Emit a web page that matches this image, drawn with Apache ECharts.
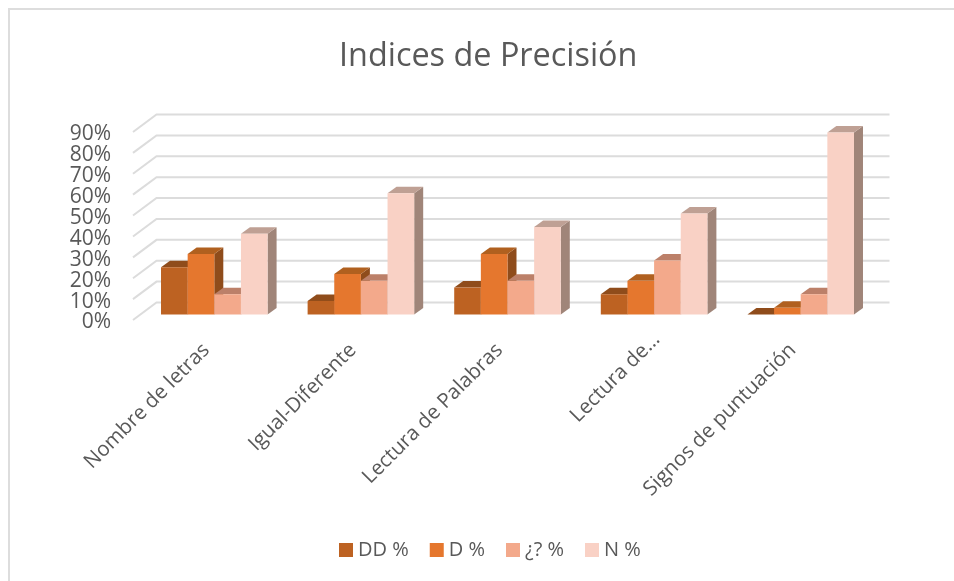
<!DOCTYPE html>
<html><head><meta charset="utf-8">
<style>html,body{margin:0;padding:0;background:#fff}#c{width:954px;height:581px}</style>
<script src="https://cdn.jsdelivr.net/npm/echarts@6/dist/echarts.min.js"></script>
</head><body><div id="c"></div>
<script>
const titleText = 'Indices de Precisión';
const categories = ['Nombre de letras','Igual-Diferente','Lectura de Palabras','Lectura de…','Signos de puntuación'];
const seriesNames = ['DD %','D %','¿? %','N %'];
const ddValues = [22.6, 6.5, 12.9, 9.7, 0];
const dValues = [29.0, 19.4, 29.0, 16.1, 3.2];
const unsureValues = [9.7, 16.1, 16.1, 25.8, 9.7];
const nValues = [38.7, 58.1, 41.9, 48.4, 87.1];
const gridTicks = [0,10,20,30,40,50,60,70,80,90];
const colors = ['#BD6222','#E5772E','#F3A98B','#F9D1C5'];
const topColors = ['#8F4C1B','#B0601F','#BC8069','#BFA094'];
const sideColors = ['#8F4C1B','#8F4C1B','#A0705C','#A08579'];

const chart = echarts.init(document.getElementById('c'), null, {renderer:'canvas'});
const FONT = '"Open Sans"';
const wallDx = 23.5, wallDy = -17.5, barOffX = 8, barOffY = -5.5, depthX = 9, depthY = -6.5;
const groupRatio = 0.727;

function barSeries(idx, values){
  return {
    type:'custom', name:seriesNames[idx], coordinateSystem:'cartesian2d', clip:false, z:3+idx,
    itemStyle:{color:colors[idx]},
    data:values.map((v,i)=>[i,v]),
    renderItem(params, api){
      const base = api.coord([api.value(0),0]);
      const top = api.coord([api.value(0),api.value(1)]);
      const group = api.size([1,0])[0]*groupRatio;
      const w = group/4;
      const x0 = base[0]+barOffX-group/2+idx*w, x1 = x0+w;
      const yb = base[1]+barOffY, yt = top[1]+barOffY;
      const dx = depthX, dy = depthY;
      return {type:'group',children:[
        {type:'polygon',shape:{points:[[x1,yb],[x1+dx,yb+dy],[x1+dx,yt+dy],[x1,yt]]},style:{fill:sideColors[idx]}},
        {type:'polygon',shape:{points:[[x0,yt],[x0+dx,yt+dy],[x1+dx,yt+dy],[x1,yt]]},style:{fill:topColors[idx]}},
        {type:'rect',shape:{x:x0,y:yt,width:w,height:yb-yt},style:{fill:colors[idx]}}
      ]};
    }
  };
}

chart.setOption({
  animation:false,
  backgroundColor:'#fff',
  textStyle:{fontFamily:FONT},
  title:{text:titleText,left:334,top:36,itemGap:0,
    textStyle:{fontFamily:FONT,fontSize:32.4,fontWeight:'normal',color:'#595959'}},
  legend:{data:seriesNames,bottom:16,left:334,itemWidth:14,itemHeight:14,itemGap:21,
    textStyle:{fontFamily:FONT,fontSize:20,color:'#595959'},
    icon:'rect'},
  grid:{left:133,top:132,width:733,height:188,containLabel:false},
  xAxis:{type:'category',
    data:categories.map((c,i)=> i===3 ? {value:c,textStyle:{padding:[0,-15,0,0]}} : c),
    axisLine:{show:false},axisTick:{show:false},splitLine:{show:false},
    axisLabel:{rotate:45,interval:0,margin:27,color:'#595959',fontSize:20.5,fontFamily:FONT}},
  yAxis:{type:'value',min:0,max:90,interval:10,
    axisLine:{show:false},axisTick:{show:false},splitLine:{show:false},
    axisLabel:{formatter:'{value}%',margin:22,verticalAlign:'top',lineHeight:21,padding:[-8,0,0,0],color:'#595959',fontSize:21,fontFamily:FONT}},
  graphic:[{type:'rect',silent:true,z:-1,shape:{x:9,y:9,width:1000,height:700},style:{fill:'#fff',stroke:'#DDDDDD',lineWidth:2}}],
  series:[
    {type:'custom',silent:true,clip:false,z:2,coordinateSystem:'cartesian2d',legendHoverLink:false,
      data:gridTicks.map(v=>[0,v]),
      renderItem(params,api){
        const p = api.coord([0,api.value(1)]);
        const y = p[1];
        const left = params.coordSys.x, right = left+params.coordSys.width;
        return {type:'polyline',shape:{points:[[left,y],[left+wallDx,y+wallDy],[right+wallDx,y+wallDy]]},
          style:{stroke:'#DCDCDC',lineWidth:2,fill:null}};
      }},
    barSeries(0,ddValues),barSeries(1,dValues),barSeries(2,unsureValues),barSeries(3,nValues)
  ]
});
</script></body></html>
